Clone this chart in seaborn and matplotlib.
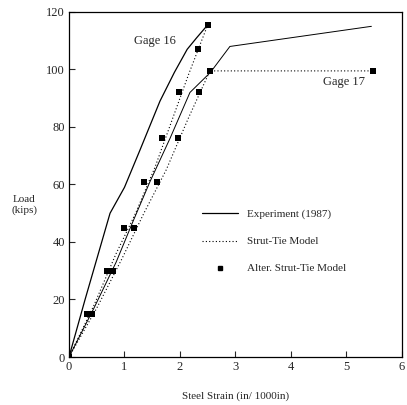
import matplotlib
matplotlib.use('Agg')
import matplotlib.pyplot as plt
import seaborn as sns
from matplotlib.lines import Line2D

# strain in in/1000in, load in kips
exp16_strain = [0, 0.29, 0.74, 1.0, 1.28, 1.64, 1.9, 2.13, 2.3, 2.5]
exp16_load = [0, 20, 50, 59, 72, 89, 99, 107, 111, 115.5]
exp17_strain = [0, 0.45, 0.85, 1.15, 1.46, 1.82, 2.18, 2.55, 2.9, 5.45]
exp17_load = [0, 17, 33, 47, 61, 76, 92, 99, 108, 115]

st16_strain = [0, 0.45, 0.85, 1.2, 1.55, 1.85, 2.15, 2.5]
st16_load = [0, 18, 36, 50, 66, 82, 98, 115.5]
st17_strain = [0, 0.5, 0.95, 1.35, 1.75, 2.15, 2.54, 5.48]
st17_load = [0, 17, 34, 50, 65, 83, 99.5, 99.5]

alt16_strain = [0, 0.33, 0.68, 1.0, 1.35, 1.68, 1.98, 2.32, 2.5]
alt16_load = [0, 15, 30, 45, 61, 76, 92, 107, 115.5]
alt17_strain = [0, 0.42, 0.8, 1.17, 1.58, 1.96, 2.34, 2.54, 5.48]
alt17_load = [0, 15, 30, 45, 61, 76, 92, 99.5, 99.5]

x_ticks = [0, 1, 2, 3, 4, 5, 6]
y_ticks = [0, 20, 40, 60, 80, 100, 120]

sns.set_style('ticks')
plt.rcParams['font.family'] = ['Liberation Serif', 'DejaVu Serif']

fig = plt.figure(figsize=(4.07, 4.05), dpi=100)
ax = fig.add_axes([0.1695, 0.1185, 0.818, 0.852])

sns.lineplot(x=exp16_strain, y=exp16_load, ax=ax, color='black', lw=0.9, sort=False)
sns.lineplot(x=exp17_strain, y=exp17_load, ax=ax, color='black', lw=0.7, sort=False)
sns.lineplot(x=st16_strain, y=st16_load, ax=ax, color='black', lw=0.8, ls=(0, (1, 2)), sort=False)
sns.lineplot(x=st17_strain, y=st17_load, ax=ax, color='black', lw=0.8, ls=(0, (1, 2)), sort=False)
sns.scatterplot(x=alt16_strain, y=alt16_load, ax=ax, color='black', marker='s', s=14, linewidth=0)
sns.scatterplot(x=alt17_strain, y=alt17_load, ax=ax, color='black', marker='s', s=14, linewidth=0)

ax.set_xlim(0, 6)
ax.set_ylim(0, 120)
ax.set_xticks(x_ticks)
ax.set_yticks(y_ticks)
ax.tick_params(direction='in', labelsize=9, length=4, width=0.8, pad=3)
for side in ax.spines.values():
    side.set_linewidth(0.9)
    side.set_color('black')

ax.text(1.55, 110, 'Gage 16', fontsize=9, ha='center', va='center')
ax.text(4.95, 95.5, 'Gage 17', fontsize=9, ha='center', va='center')

ax.set_xlabel('Steel Strain (in/ 1000in)', fontsize=8, labelpad=13)
ax.set_ylabel('Load\n(kips)', fontsize=8, rotation=0, ha='center', va='center')
ax.yaxis.set_label_coords(-0.135, 0.44)

handles = [
    Line2D([], [], color='black', lw=0.9),
    Line2D([], [], color='black', lw=0.8, ls=(0, (1, 2))),
    Line2D([], [], color='black', marker='s', ms=3.5, ls='none'),
]
labels = ['Experiment (1987)', 'Strut-Tie Model', 'Alter. Strut-Tie Model']
ax.legend(handles, labels, loc='center left', bbox_to_anchor=(0.37, 0.335),
          frameon=False, fontsize=8, handlelength=3.2, labelspacing=1.55)

fig.savefig('out.png', dpi=100)
